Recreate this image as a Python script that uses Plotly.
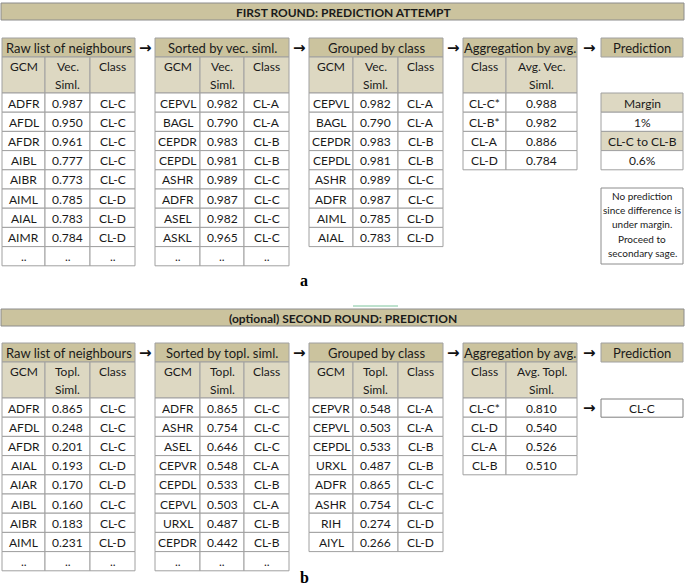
import plotly.graph_objects as go

# ---------------- data ----------------
r1_title = "FIRST ROUND: PREDICTION ATTEMPT"
r2_title = "(optional) SECOND ROUND: PREDICTION"

r1_raw_gcm = ["ADFR", "AFDL", "AFDR", "AIBL", "AIBR", "AIML", "AIAL", "AIMR"]
r1_raw_sim = [0.987, 0.950, 0.961, 0.777, 0.773, 0.785, 0.783, 0.784]
r1_raw_cls = ["CL-C", "CL-C", "CL-C", "CL-C", "CL-C", "CL-D", "CL-D", "CL-D"]

r1_sort_gcm = ["CEPVL", "BAGL", "CEPDR", "CEPDL", "ASHR", "ADFR", "ASEL", "ASKL"]
r1_sort_sim = [0.982, 0.790, 0.983, 0.981, 0.989, 0.987, 0.982, 0.965]
r1_sort_cls = ["CL-A", "CL-A", "CL-B", "CL-B", "CL-C", "CL-C", "CL-C", "CL-C"]

r1_grp_gcm = ["CEPVL", "BAGL", "CEPDR", "CEPDL", "ASHR", "ADFR", "AIML", "AIAL"]
r1_grp_sim = [0.982, 0.790, 0.983, 0.981, 0.989, 0.987, 0.785, 0.783]
r1_grp_cls = ["CL-A", "CL-A", "CL-B", "CL-B", "CL-C", "CL-C", "CL-D", "CL-D"]

r1_agg_cls = ["CL-C*", "CL-B*", "CL-A", "CL-D"]
r1_agg_sim = [0.988, 0.982, 0.886, 0.784]

r1_margin_labels = ["Margin", "1%", "CL-C to CL-B", "0.6%"]
r1_note = ["No prediction", "since difference is", "under margin.", "Proceed to", "secondary sage."]

r2_raw_gcm = ["ADFR", "AFDL", "AFDR", "AIAL", "AIAR", "AIBL", "AIBR", "AIML"]
r2_raw_sim = [0.865, 0.248, 0.201, 0.193, 0.170, 0.160, 0.183, 0.231]
r2_raw_cls = ["CL-C", "CL-C", "CL-C", "CL-D", "CL-D", "CL-C", "CL-C", "CL-D"]

r2_sort_gcm = ["ADFR", "ASHR", "ASEL", "CEPVR", "CEPDL", "CEPVL", "URXL", "CEPDR"]
r2_sort_sim = [0.865, 0.754, 0.646, 0.548, 0.533, 0.503, 0.487, 0.442]
r2_sort_cls = ["CL-C", "CL-C", "CL-C", "CL-A", "CL-B", "CL-A", "CL-B", "CL-B"]

r2_grp_gcm = ["CEPVR", "CEPVL", "CEPDL", "URXL", "ADFR", "ASHR", "RIH", "AIYL"]
r2_grp_sim = [0.548, 0.503, 0.533, 0.487, 0.865, 0.754, 0.274, 0.266]
r2_grp_cls = ["CL-A", "CL-A", "CL-B", "CL-B", "CL-C", "CL-C", "CL-D", "CL-D"]

r2_agg_cls = ["CL-C*", "CL-D", "CL-A", "CL-B"]
r2_agg_sim = [0.810, 0.540, 0.526, 0.510]
r2_prediction = "CL-C"

# ---------------- style ----------------
W, H = 685, 587
FONT = "Lato"
FS = 12
HDR = "#cbc39e"
SUB = "#ddd8c2"
LINE = "#a0a0a0"
TXT = "#1a1a1a"

shapes = []
annots = []


def rect(x0, y0, x1, y1, fill="white", line=LINE, width=1):
    shapes.append(dict(type="rect", xref="x", yref="y", x0=x0, y0=y0, x1=x1, y1=y1,
                       fillcolor=fill, line=dict(color=line, width=width), layer="below"))


def text(x, y, s, size=FS, bold=False, family=FONT, color=TXT):
    annots.append(dict(x=x, y=y, xref="x", yref="y", text=f"<b>{s}</b>" if bold else s,
                       showarrow=False, xanchor="center", yanchor="middle",
                       font=dict(family=family, size=size, color=color)))


ROW_H = 19.2
HEAD_H = 19
SUB_H = 36


def table(xe, top, header, subs, cols, dots):
    rect(xe[0], top, xe[-1], top + HEAD_H, fill=HDR)
    text((xe[0] + xe[-1]) / 2, top + HEAD_H / 2 + 0.5, header, size=13)
    y0 = top + HEAD_H
    for i, s in enumerate(subs):
        rect(xe[i], y0, xe[i + 1], y0 + SUB_H, fill=SUB)
        xc = (xe[i] + xe[i + 1]) / 2
        text(xc, y0 + 9.5, s[0])
        if len(s) > 1:
            text(xc, y0 + 27.5, s[1])
    d0 = y0 + SUB_H
    rows = [list(r) for r in zip(*cols)]
    if dots:
        rows.append([".."] * len(cols))
    for r, row in enumerate(rows):
        ya = d0 + r * ROW_H
        for i, v in enumerate(row):
            rect(xe[i], ya, xe[i + 1], ya + ROW_H)
            s = f"{v:.3f}" if isinstance(v, float) else v
            text((xe[i] + xe[i + 1]) / 2, ya + ROW_H / 2 + 0.5, s)
    return d0


def arrow(x, y):
    text(x, y, "→", size=15, bold=True, family="DejaVu Sans", color="#111111")


X1 = [2, 45, 90, 135]
X2 = [155, 200, 244, 289]
X3 = [309, 353, 398, 443]
X4 = [463, 506, 577]
XP = [601, 683]
ARROWS_X = [145, 299, 453, 589]


def round_block(top_banner, title, top, simname, raw, srt, grp, agg, sorted_title):
    rect(1, top_banner, 684, top_banner + 17, fill=HDR, line="#8c8c8c")
    text(343, top_banner + 9, title, size=12, bold=True)
    d0 = table(X1, top, "Raw list of neighbours",
               [["GCM"], [simname, "Siml."], ["Class"]], raw, True)
    table(X2, top, sorted_title, [["GCM"], [simname, "Siml."], ["Class"]], srt, True)
    table(X3, top, "Grouped by class", [["GCM"], [simname, "Siml."], ["Class"]], grp, False)
    table(X4, top, "Aggregation by avg.", [["Class"], ["Avg. " + simname, "Siml."]], agg, False)
    rect(XP[0], top, XP[1], top + HEAD_H, fill=HDR)
    text((XP[0] + XP[1]) / 2, top + HEAD_H / 2 + 0.5, "Prediction", size=13)
    for ax in ARROWS_X:
        arrow(ax, top + HEAD_H / 2)
    return d0


# ---- first round ----
d0 = round_block(3, r1_title, 38, "Vec.",
                 [r1_raw_gcm, r1_raw_sim, r1_raw_cls],
                 [r1_sort_gcm, r1_sort_sim, r1_sort_cls],
                 [r1_grp_gcm, r1_grp_sim, r1_grp_cls],
                 [r1_agg_cls, r1_agg_sim], "Sorted by vec. siml.")
for i, s in enumerate(r1_margin_labels):
    ya = d0 + i * ROW_H
    rect(XP[0], ya, XP[1], ya + ROW_H, fill=SUB if i % 2 == 0 else "white")
    text((XP[0] + XP[1]) / 2, ya + ROW_H / 2 + 0.5, s, size=12)
rect(XP[0], 188, XP[1], 264, line="#8c8c8c")
for i, s in enumerate(r1_note):
    text((XP[0] + XP[1]) / 2, 195.5 + i * 14.4, s, size=10)
text(304, 280, "a", size=16, bold=True, family="Liberation Serif", color="#000000")

# ---- second round ----
d0 = round_block(309, r2_title, 343, "Topl.",
                 [r2_raw_gcm, r2_raw_sim, r2_raw_cls],
                 [r2_sort_gcm, r2_sort_sim, r2_sort_cls],
                 [r2_grp_gcm, r2_grp_sim, r2_grp_cls],
                 [r2_agg_cls, r2_agg_sim], "Sorted by topl. siml.")
arrow(ARROWS_X[3], d0 + ROW_H / 2)
rect(XP[0], d0 + 1, XP[1], d0 + ROW_H, line="#7f7f7f")
text((XP[0] + XP[1]) / 2, d0 + ROW_H / 2 + 0.5, r2_prediction, size=12)
text(304, 577, "b", size=16, bold=True, family="Liberation Serif", color="#000000")

# small green selection artifact above second banner
shapes.append(dict(type="line", xref="x", yref="y", x0=353, x1=398, y0=306, y1=306,
                   line=dict(color="#7cc49c", width=1)))

fig = go.Figure()
fig.update_layout(
    width=W, height=H, margin=dict(l=0, r=0, t=0, b=0),
    paper_bgcolor="white", plot_bgcolor="white",
    xaxis=dict(range=[0, W], visible=False, fixedrange=True),
    yaxis=dict(range=[H, 0], visible=False, fixedrange=True),
    shapes=shapes, annotations=annots, showlegend=False,
)
fig.write_html("out.html", config={"displayModeBar": False},
               post_script="document.body.style.margin='0';document.body.style.overflow='hidden';")
